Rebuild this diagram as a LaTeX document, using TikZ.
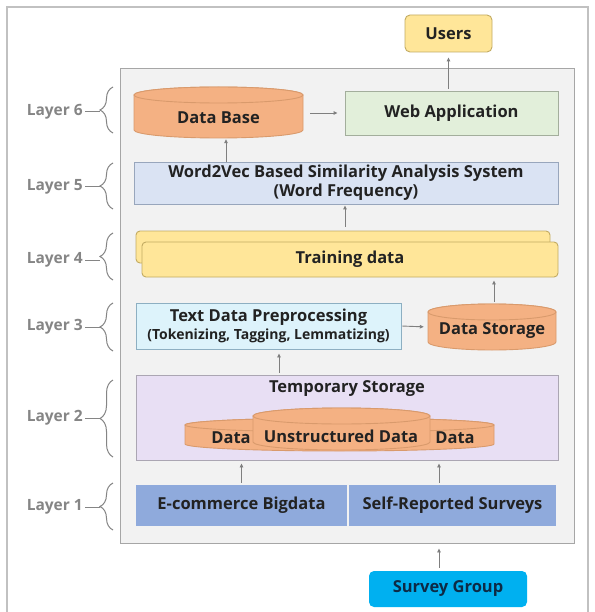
\documentclass[tikz,border=0pt]{standalone}
\usepackage{fontspec}
\setmainfont{Open Sans}
\usetikzlibrary{arrows.meta,decorations.pathreplacing,calc}
\definecolor{txt}{HTML}{222222}
\definecolor{lay}{HTML}{858585}
\definecolor{grayfill}{HTML}{F2F2F2}
\definecolor{graydraw}{HTML}{A6A6A6}
\definecolor{orfill}{HTML}{F4B183}
\definecolor{ordraw}{HTML}{D99A6C}
\definecolor{grfill}{HTML}{E2EFDA}
\definecolor{grdraw}{HTML}{A3AE9C}
\definecolor{blfill}{HTML}{DAE3F3}
\definecolor{bldraw}{HTML}{98A6BC}
\definecolor{yefill}{HTML}{FFE699}
\definecolor{yedraw}{HTML}{C2AB62}
\definecolor{cyfill}{HTML}{DDF3FB}
\definecolor{cydraw}{HTML}{8DAFC2}
\definecolor{lvfill}{HTML}{E8DFF4}
\definecolor{lvdraw}{HTML}{ABA6B3}
\definecolor{bbfill}{HTML}{8FAADC}
\definecolor{sgfill}{HTML}{00B0F0}
\definecolor{sgtxt}{HTML}{0D2A45}
\definecolor{arrcol}{HTML}{7F7F7F}
\newcommand\mycyl[6]{%
  \filldraw[#6] ({#1},{-(#3+#5)}) -- ({#1},{-(#4-#5)})
    arc[start angle=180,end angle=360,x radius={((#2-#1)/2)*1pt},y radius={#5*1pt}]
    -- ({#2},{-(#3+#5)})
    arc[start angle=0,end angle=180,x radius={((#2-#1)/2)*1pt},y radius={#5*1pt}] -- cycle;
  \draw[#6] ({(#1+#2)/2},{-(#3+#5)}) ellipse[x radius={((#2-#1)/2)*1pt},y radius={#5*1pt}];
}
\tikzset{
  box/.style={rectangle, inner sep=0pt, line width=0.9pt, font=\bfseries\fontsize{16.5}{20}\selectfont, text=txt, align=center},
  arr/.style={draw=arrcol, line width=0.9pt, -{Triangle[length=4pt,width=3.5pt]}},
  laylab/.style={font=\bfseries\fontsize{15.5}{17}\selectfont, text=lay, anchor=east, inner sep=0pt},
  brc/.style={draw=lay, line width=1pt, decorate, decoration={brace, amplitude=13pt}},
  cyltext/.style={font=\bfseries\fontsize{16.5}{20}\selectfont, text=txt, inner sep=0pt},
}
\begin{document}
\begin{tikzpicture}[x=1pt,y=1pt]
\useasboundingbox (0,0) rectangle (594,-612);
\clip (0,0) rectangle (594,-612);
\fill[white] (0,0) rectangle (594,-612);
% outer frame
\draw[draw=graydraw!70, line width=1.2pt] (7,-620) -- (7,-7) -- (588,-7) -- (588,-620);
% inner gray box
\node[box, draw=graydraw, fill=grayfill, minimum width=454pt, minimum height=475pt] (gray) at (347,-305.5) {};
% Users
\node[box, draw=yedraw, fill=yefill, rounded corners=5pt, minimum width=87pt, minimum height=37pt] (users) at (448.5,-33.5) {Users};
% Layer 6
\node[inner sep=0pt, minimum width=169pt, minimum height=51pt] (db) at (218.5,-112.5) {};
\mycyl{134}{303}{87}{138}{8}{draw=ordraw, fill=orfill, line width=0.9pt}
\node[cyltext] (dbt) at (218.5,-118) {Data Base};
\node[box, draw=grdraw, fill=grfill, minimum width=213pt, minimum height=44pt] (web) at (451.5,-113) {Web Application};
% Layer 5
\node[box, draw=bldraw, fill=blfill, minimum width=424pt, minimum height=42pt] (w2v) at (346,-183) {Word2Vec Based Similarity Analysis System\\[-1pt](Word Frequency)};
% Layer 4
\node[box, draw=yedraw, fill=yefill, rounded corners=4pt, minimum width=414pt, minimum height=32pt] (trainback) at (343,-247) {};
\node[box, draw=yedraw, fill=yefill, rounded corners=4pt, minimum width=416pt, minimum height=35pt] (train) at (350,-259.5) {Training data};
% Layer 3
\node[box, draw=cydraw, fill=cyfill, minimum width=265pt, minimum height=46pt] (tdp) at (268.5,-326) {Text Data Preprocessing\\[-2pt]{\fontsize{14}{16}\selectfont (Tokenizing, Tagging, Lemmatizing)}};
\node[inner sep=0pt, minimum width=128pt, minimum height=46pt] (ds) at (492,-327) {};
\mycyl{428}{556}{304}{350}{8}{draw=ordraw, fill=orfill, line width=0.9pt}
\node[cyltext] (dst) at (492,-331) {Data Storage};
% Layer 2
\node[box, draw=lvdraw, fill=lvfill, minimum width=422pt, minimum height=85pt] (temp) at (347,-417.5) {};
\node[cyltext] (tempt) at (347,-389) {Temporary Storage};
\node[inner sep=0pt, minimum width=309pt, minimum height=33pt] (cylback) at (339.5,-434) {};
\mycyl{185}{494}{418}{451}{7}{draw=ordraw, fill=orfill, line width=0.9pt}
\node[inner sep=0pt, minimum width=177pt, minimum height=43pt] (cylfront) at (341,-429) {};
\mycyl{253}{430}{408}{450}{8}{draw=ordraw, fill=orfill, line width=0.9pt}
\node[cyltext] (dl) at (231,-438) {Data};
\node[cyltext] (du) at (341,-436) {Unstructured Data};
\node[cyltext] (dr) at (455,-438) {Data};
% Layer 1
\node[box, fill=bbfill, minimum width=211pt, minimum height=41pt] (ecom) at (241.5,-505.5) {E-commerce Bigdata};
\node[box, fill=bbfill, minimum width=207pt, minimum height=41pt] (self) at (452.5,-505.5) {Self-Reported Surveys};
% Survey group
\node[box, fill=sgfill, text=sgtxt, rounded corners=5pt, minimum width=158pt, minimum height=36pt] (survey) at (448,-589) {Survey Group};
% arrows
\draw[arr, shorten <=2pt, shorten >=5pt] (web.north -| users.south) -- (users.south);
\draw[arr, shorten <=7pt, shorten >=7pt] (db.east |- web.west) -- (web.west);
\draw[arr, shorten >=1pt] ([xshift=7.5pt]db.south |- w2v.north) -- ([xshift=7.5pt]db.south);
\draw[arr, shorten <=4pt, shorten >=1pt] ($(trainback.north)+(2,0)$) -- ($(w2v.south)+(-1,0)$);
\draw[arr, shorten <=2pt, shorten >=3pt] ([xshift=2pt]ds.north) -- ([xshift=2pt]ds.north |- train.south);
\draw[arr, shorten <=1pt, shorten >=4pt] (tdp.east) -- (ds.west);
\draw[arr, shorten <=2pt, shorten >=4pt] ([xshift=10.5pt]tdp.south |- temp.north) -- ([xshift=10.5pt]tdp.south);
\draw[arr, shorten <=2pt, shorten >=3pt] (ecom.north) -- (ecom.north |- temp.south);
\draw[arr, shorten <=2pt, shorten >=3pt] ([xshift=-13.5pt]self.north) -- ([xshift=-13.5pt]self.north |- temp.south);
\draw[arr, shorten <=3pt, shorten >=5pt] ([xshift=-9pt]survey.north) -- ([xshift=-9pt]survey.north |- gray.south);
% layer labels and braces
\foreach \n/\yc/\yt/\yb in {6/112/87/133, 5/187/163/209, 4/260/233/280, 3/327/303/351, 2/418/380/457, 1/507/483/530}{
  \node[laylab] (L\n) at (83,-\yc) {Layer \n};
  \draw[brc] (113,-\yb) -- (113,-\yt);
  \draw[draw=lay, line width=1pt] (L\n.east) ++(2pt,0) -- (100,-\yc);
}
\end{tikzpicture}
\end{document}
